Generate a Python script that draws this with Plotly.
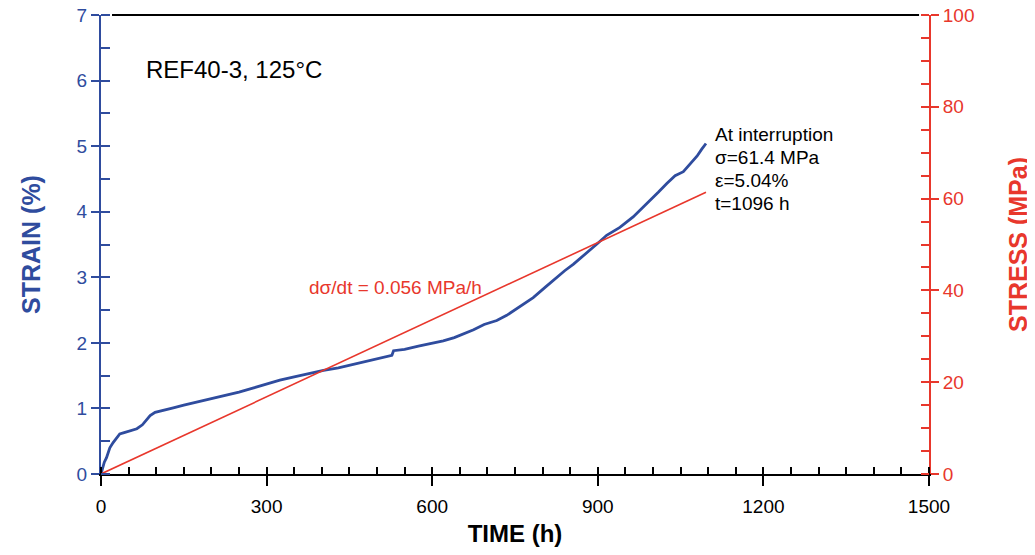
import plotly.graph_objects as go

# ---- data ----
strain_time = [0, 3, 6, 10, 16, 22, 28, 34, 42, 50, 58, 65, 75, 89, 98, 115, 131, 150,
               175, 200, 222, 250, 275, 300, 324, 350, 375, 403, 430, 460, 490, 510,
               523, 527, 530, 550, 575, 596, 620, 640, 656, 675, 694, 711, 717, 735,
               753, 770, 783, 805, 825, 840, 856, 870, 886, 900, 916, 940, 964, 980,
               995, 1010, 1025, 1040, 1055, 1067, 1080, 1088, 1096]
strain_pct = [0.0, 0.10, 0.18, 0.25, 0.40, 0.48, 0.55, 0.61, 0.63, 0.65, 0.67, 0.69, 0.75, 0.89, 0.94, 0.98, 1.01, 1.05,
              1.10, 1.15, 1.19, 1.25, 1.31, 1.37, 1.43, 1.48, 1.53, 1.58, 1.62, 1.68, 1.73, 1.77,
              1.80, 1.81, 1.88, 1.90, 1.95, 1.99, 2.03, 2.08, 2.13, 2.20, 2.28, 2.33, 2.34, 2.42,
              2.52, 2.62, 2.69, 2.85, 3.00, 3.10, 3.20, 3.30, 3.41, 3.52, 3.64, 3.76, 3.92, 4.05,
              4.17, 4.30, 4.43, 4.55, 4.61, 4.73, 4.85, 4.95, 5.04]

stress_time = [0, 100, 200, 300, 400, 500, 600, 700, 800, 900, 1000, 1096]
stress_mpa = [0.0, 5.6, 11.2, 16.8, 22.4, 28.0, 33.6, 39.2, 44.8, 50.4, 56.0, 61.4]

x_ticks = [0, 300, 600, 900, 1200, 1500]
strain_ticks = [0, 1, 2, 3, 4, 5, 6, 7]
stress_ticks = [0, 20, 40, 60, 80, 100]

sample_label = "REF40-3, 125°C"
rate_label = "dσ/dt = 0.056 MPa/h"
end_lines = ["At interruption", "σ=61.4 MPa", "ε=5.04%", "t=1096 h"]

BLUE = "#2f4c9e"
RED = "#e8372c"
FONT = "Arial, Liberation Sans, sans-serif"

fig = go.Figure()
fig.add_trace(go.Scatter(x=stress_time, y=stress_mpa, mode="lines", yaxis="y2",
                         line=dict(color=RED, width=1.6), showlegend=False))
fig.add_trace(go.Scatter(x=strain_time, y=strain_pct, mode="lines", yaxis="y",
                         line=dict(color=BLUE, width=2.8), showlegend=False))

fig.update_layout(
    template="none",
    width=1027, height=539,
    margin=dict(l=93, r=106, t=7, b=73, autoexpand=False),
    paper_bgcolor="white", plot_bgcolor="white",
    font=dict(family=FONT),
    xaxis=dict(range=[0, 1500], tickvals=x_ticks, ticks="outside", ticklen=10, tickwidth=1.5,
               tickcolor="black", showline=True, linecolor="black", linewidth=2, automargin=False,
               showgrid=False, zeroline=False, tickfont=dict(size=19, color="black"),
               ticklabelstandoff=4, ticklabeloverflow="allow",
               minor=dict(dtick=50, tick0=0, ticks="inside", ticklen=7, tickwidth=1.5, tickcolor="black"),
               title=dict(text="<b>TIME (h)</b>", font=dict(size=24, color="black"), standoff=12)),
    xaxis3=dict(overlaying="x", anchor="y", side="bottom", range=[0, 1500], tickvals=x_ticks,
                ticks="inside", ticklen=10, tickwidth=1.5, tickcolor="black", automargin=False,
                showticklabels=False, showline=False, showgrid=False, zeroline=False),
    yaxis=dict(range=[0, 7], tickvals=strain_ticks, ticks="outside", ticklen=8, tickwidth=1.5,
               tickcolor=BLUE, showline=True, linecolor=BLUE, linewidth=2, automargin=False,
               showgrid=False, zeroline=False, tickfont=dict(size=19, color=BLUE),
               ticklabeloverflow="allow",
               minor=dict(dtick=0.5, tick0=0, ticks="inside", ticklen=9, tickwidth=1.5, tickcolor=BLUE),
               title=dict(text="<b>STRAIN (%)</b>", font=dict(size=25, color=BLUE), standoff=29)),
    yaxis2=dict(overlaying="y", side="right", anchor="x", range=[0, 100], tickvals=stress_ticks,
                ticks="outside", ticklen=8, tickwidth=1.5, tickcolor=RED, showline=True,
                linecolor=RED, linewidth=2, showgrid=False, zeroline=False, automargin=False,
                tickfont=dict(size=19, color=RED), ticklabeloverflow="allow",
                minor=dict(dtick=5, tick0=0, ticks="inside", ticklen=8, tickwidth=1.5, tickcolor=RED),
                title=dict(text="<b>STRESS (MPa)</b>", font=dict(size=25, color=RED), standoff=36)),
    yaxis3=dict(overlaying="y", side="left", anchor="x", range=[0, 7], tickvals=strain_ticks,
                ticks="inside", ticklen=8, tickwidth=1.5, tickcolor=BLUE, showticklabels=False,
                showline=False, showgrid=False, zeroline=False, automargin=False),
    yaxis4=dict(overlaying="y", side="right", anchor="x", range=[0, 100], tickvals=stress_ticks,
                ticks="inside", ticklen=8, tickwidth=1.5, tickcolor=RED, showticklabels=False,
                showline=False, showgrid=False, zeroline=False, automargin=False),
)

# top frame line
fig.add_shape(type="line", xref="paper", yref="paper", x0=0.0133, x1=0.988, y0=1, y1=1,
              line=dict(color="black", width=2))

fig.add_annotation(x=78, y=6.17, xref="x", yref="y", text=sample_label, showarrow=False,
                   xanchor="left", yanchor="middle", font=dict(size=24, color="black"))
fig.add_annotation(x=373, y=2.84, xref="x", yref="y", text=rate_label, showarrow=False,
                   xanchor="left", yanchor="middle", font=dict(size=19, color=RED))
line_y = [5.18, 4.83, 4.48, 4.13]
for txt, yy in zip(end_lines, line_y):
    fig.add_annotation(x=1108, y=yy, xref="x", yref="y", text=txt, showarrow=False,
                       xanchor="left", yanchor="middle", font=dict(size=19, color="black"))

fig.write_html("out.html")
